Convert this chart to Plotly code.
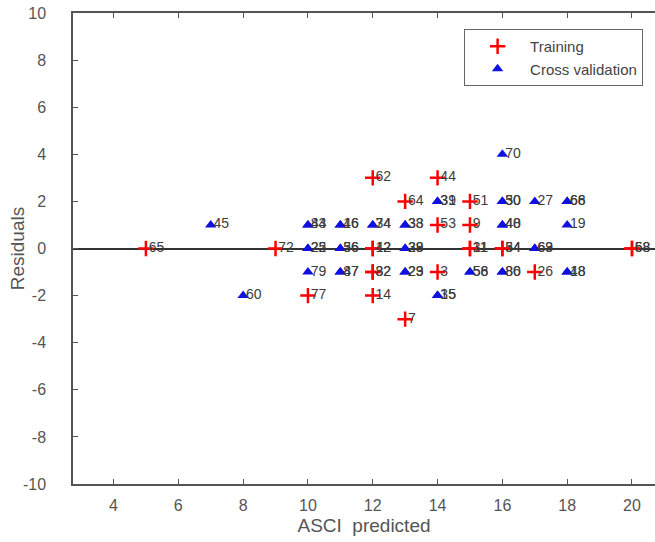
import plotly.graph_objects as go

# Training samples: predicted ASCI, residual, sample id
train_x = [5, 9, 10, 12, 12, 12, 12, 12, 12, 13, 13, 14, 14, 14, 15, 15, 15, 15, 16, 16, 17, 20, 20]
train_y = [0, 0, -2, 3, 0, 0, -1, -1, -2, 2, -3, 3, 1, -1, 2, 1, 0, 0, 0, 0, -1, 0, 0]
train_id = ["65", "72", "77", "62", "42", "12", "32", "82", "14", "64", "7", "44", "53", "3",
            "51", "9", "31", "11", "54", "34", "26", "68", "58"]

# Cross-validation samples: predicted ASCI, residual, sample id
cv_x = [7, 8, 10, 10, 10, 10, 10, 11, 11, 11, 11, 11, 11, 12, 12, 13, 13, 13, 13, 13, 13,
        14, 14, 14, 14, 15, 15, 16, 16, 16, 16, 16, 16, 16, 17, 17, 17, 18, 18, 18, 18, 18]
cv_y = [1, -2, 1, 1, 0, 0, -1, 1, 1, 0, 0, -1, -1, 1, 1, 1, 1, 0, 0, -1, -1,
        2, 2, -2, -2, -1, -1, 4, 2, 2, 1, 1, -1, -1, 2, 0, 0, 2, 2, 1, -1, -1]
cv_id = ["45", "60", "84", "43", "22", "25", "79", "16", "46", "36", "56", "47", "87", "34", "74",
         "38", "33", "39", "28", "23", "29", "39", "31", "15", "35", "56", "58", "70", "50", "30",
         "40", "48", "80", "86", "27", "63", "69", "66", "68", "19", "48", "18"]

X_TICKS = [4, 6, 8, 10, 12, 14, 16, 18, 20]
Y_TICKS = [-10, -8, -6, -4, -2, 0, 2, 4, 6, 8, 10]

FONT = "Liberation Sans, Arial, sans-serif"
LABEL_FONT = dict(family=FONT, size=14, color="#3c3c3c")
AXIS_GREY = "#555555"

fig = go.Figure()

fig.add_trace(go.Scatter(
    x=train_x, y=train_y, mode="markers", name="Training",
    marker=dict(symbol="cross-thin", size=11, color="red",
                line=dict(color="red", width=2.5)),
))
fig.add_trace(go.Scatter(
    x=cv_x, y=cv_y, mode="markers", name="Cross validation",
    marker=dict(symbol="triangle-up", size=10, color="#1010e0",
                line=dict(width=0)),
))

# Sample-id labels next to each point
fig.add_trace(go.Scatter(
    x=train_x, y=train_y, mode="text", text=train_id,
    texttemplate="\u2009%{text}",
    textposition="middle right", textfont=LABEL_FONT,
    showlegend=False, hoverinfo="skip",
))
fig.add_trace(go.Scatter(
    x=cv_x, y=cv_y, mode="text", text=cv_id,
    texttemplate="\u2009%{text}",
    textposition="middle right", textfont=LABEL_FONT,
    showlegend=False, hoverinfo="skip",
))

axis_common = dict(
    showgrid=False,
    showline=True, linecolor=AXIS_GREY, linewidth=1.5,
    ticks="inside", ticklen=5, tickcolor=AXIS_GREY, tickwidth=1,
    tickfont=dict(family=FONT, size=16, color=AXIS_GREY),
)

fig.update_layout(
    width=655, height=542,
    margin=dict(l=73, r=0, t=13, b=58),
    paper_bgcolor="white", plot_bgcolor="white",
    showlegend=True,
    legend=dict(
        x=0.672, y=0.966, xanchor="left", yanchor="top",
        bgcolor="white", bordercolor="#666666", borderwidth=1,
        font=dict(family=FONT, size=15, color="#444444"),
        itemwidth=55,
        tracegroupgap=0,
    ),
    xaxis=dict(
        range=[2.75, 20.71],
        tickvals=X_TICKS,
        ticktext=[str(v) for v in X_TICKS],
        mirror="ticks",
        zeroline=False,
        ticklabelstandoff=6,
        title=dict(text="ASCI\u00a0\u00a0predicted",
                   font=dict(family=FONT, size=19, color=AXIS_GREY), standoff=6),
        **axis_common,
    ),
    yaxis=dict(
        range=[-10, 10],
        tickvals=Y_TICKS,
        ticktext=[str(v) for v in Y_TICKS],
        zeroline=True, zerolinecolor="#333333", zerolinewidth=2,
        ticklabelstandoff=22,
        **axis_common,
    ),
    annotations=[dict(
        text="Residuals", textangle=-90,
        xref="paper", yref="paper", x=-0.095, y=0.5,
        xanchor="center", yanchor="middle", showarrow=False,
        font=dict(family=FONT, size=19, color=AXIS_GREY),
    )],
)

fig.write_html("out.html")
